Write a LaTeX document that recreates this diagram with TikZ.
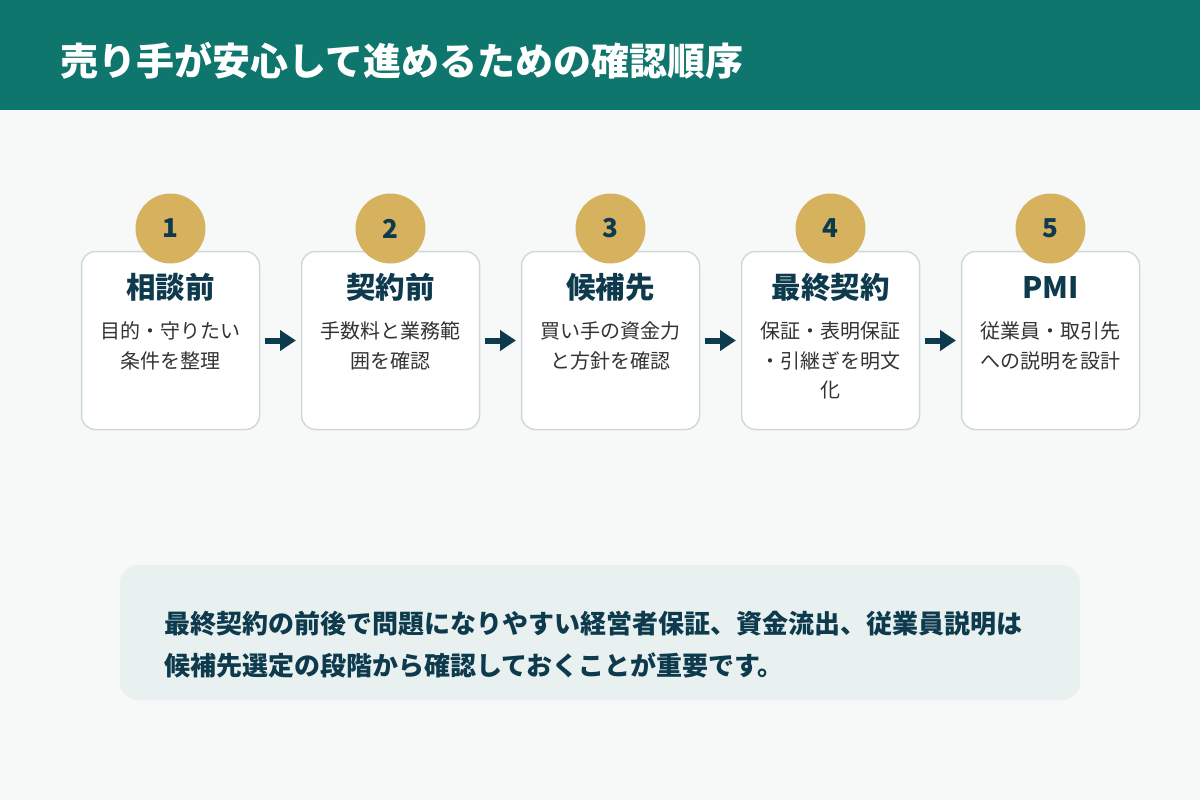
\documentclass[tikz,border=0pt]{standalone}
\usepackage{fontspec}
\setmainfont{Noto Sans CJK JP}
\usetikzlibrary{arrows.meta, positioning}

\definecolor{headteal}{HTML}{0F766E}
\definecolor{pagebg}{HTML}{F7F9F8}
\definecolor{boxline}{HTML}{CFD8DC}
\definecolor{gold}{HTML}{D6B25E}
\definecolor{navy}{HTML}{0E3A4E}
\definecolor{desctext}{HTML}{333333}
\definecolor{notefill}{HTML}{E8F1EF}

\begin{document}
\begin{tikzpicture}[x=1pt,y=-1pt]

	\tikzset{
		stepbox/.style={
				rectangle, rounded corners=14pt, draw=boxline, fill=white, line width=1.5pt, inner sep=0pt, outer sep=0pt, minimum width=178pt, minimum height=178pt
			},
		badge/.style={
				circle, fill=gold, inner sep=0pt, minimum size=70pt, text=navy, font=\fontsize{26}{26}\selectfont\bfseries
			},
		steptitle/.style={
				inner sep=0pt, text=navy, font=\fontsize{29.5}{29.5}\selectfont\bfseries
			},
		stepdesc/.style={
				inner sep=0pt, anchor=north, align=center, text=desctext, font=\fontsize{20}{29.5}\selectfont
			},
		flow/.style={
				-{Triangle[length=16pt, width=20pt]}, line width=6pt, draw=navy, shorten <=5.5pt, shorten >=5.5pt
			},
		notebox/.style={
				rectangle, rounded corners=18pt, fill=notefill, inner sep=0pt, minimum width=960pt, minimum height=135pt
			},
		notetext/.style={
				inner sep=0pt, anchor=west, align=left, text=navy, font=\fontsize{26}{42}\selectfont\bfseries
			},
	}

	\useasboundingbox (0,0) rectangle (1200,800);
	\fill[pagebg] (0,0) rectangle (1200,800);
	\fill[headteal] (0,0) rectangle (1200,110);
	\node[inner sep=0pt, anchor=west, text=white, font=\fontsize{38}{38}\selectfont\bfseries](head) at (60,61){売り手が安心して進めるための確認順序};

	\node[stepbox](b1) at (170.5,340.5){};
	\node[stepbox, right=42pt of b1](b2){};
	\node[stepbox, right=42pt of b2](b3){};
	\node[stepbox, right=42pt of b3](b4){};
	\node[stepbox, right=42pt of b4](b5){};

	\node[badge](n1) at ([yshift=23pt]b1.north){1};
	\node[badge](n2) at ([yshift=23pt]b2.north){2};
	\node[badge](n3) at ([yshift=23pt]b3.north){3};
	\node[badge](n4) at ([yshift=23pt]b4.north){4};
	\node[badge](n5) at ([yshift=23pt]b5.north){5};

	\node[steptitle](t1) at ([yshift=-36pt]b1.north){相談前};
	\node[steptitle](t2) at ([yshift=-36pt]b2.north){契約前};
	\node[steptitle](t3) at ([yshift=-36pt]b3.north){候補先};
	\node[steptitle](t4) at ([yshift=-36pt]b4.north){最終契約};
	\node[steptitle](t5) at ([yshift=-36pt]b5.north){PMI};

	\node[stepdesc](d1) at ([yshift=-70pt]b1.north){目的・守りたい\\条件を整理};
	\node[stepdesc](d2) at ([yshift=-70pt]b2.north){手数料と業務範\\囲を確認};
	\node[stepdesc](d3) at ([yshift=-70pt]b3.north){買い手の資金力\\と方針を確認};
	\node[stepdesc](d4) at ([yshift=-70pt]b4.north){保証・表明保証\\・引継ぎを明文\\化};
	\node[stepdesc](d5) at ([yshift=-70pt]b5.north){従業員・取引先\\への説明を設計};

	\draw[flow] (b1) -- (b2);
	\draw[flow] (b2) -- (b3);
	\draw[flow] (b3) -- (b4);
	\draw[flow] (b4) -- (b5);

	\node[notebox](nb) at (600,632.5){};
	\node[notetext](nt) at ([xshift=44pt, yshift=-12pt]nb.west){最終契約の前後で問題になりやすい経営者保証、資金流出、従業員説明は\\候補先選定の段階から確認しておくことが重要です。};

\end{tikzpicture}
\end{document}
